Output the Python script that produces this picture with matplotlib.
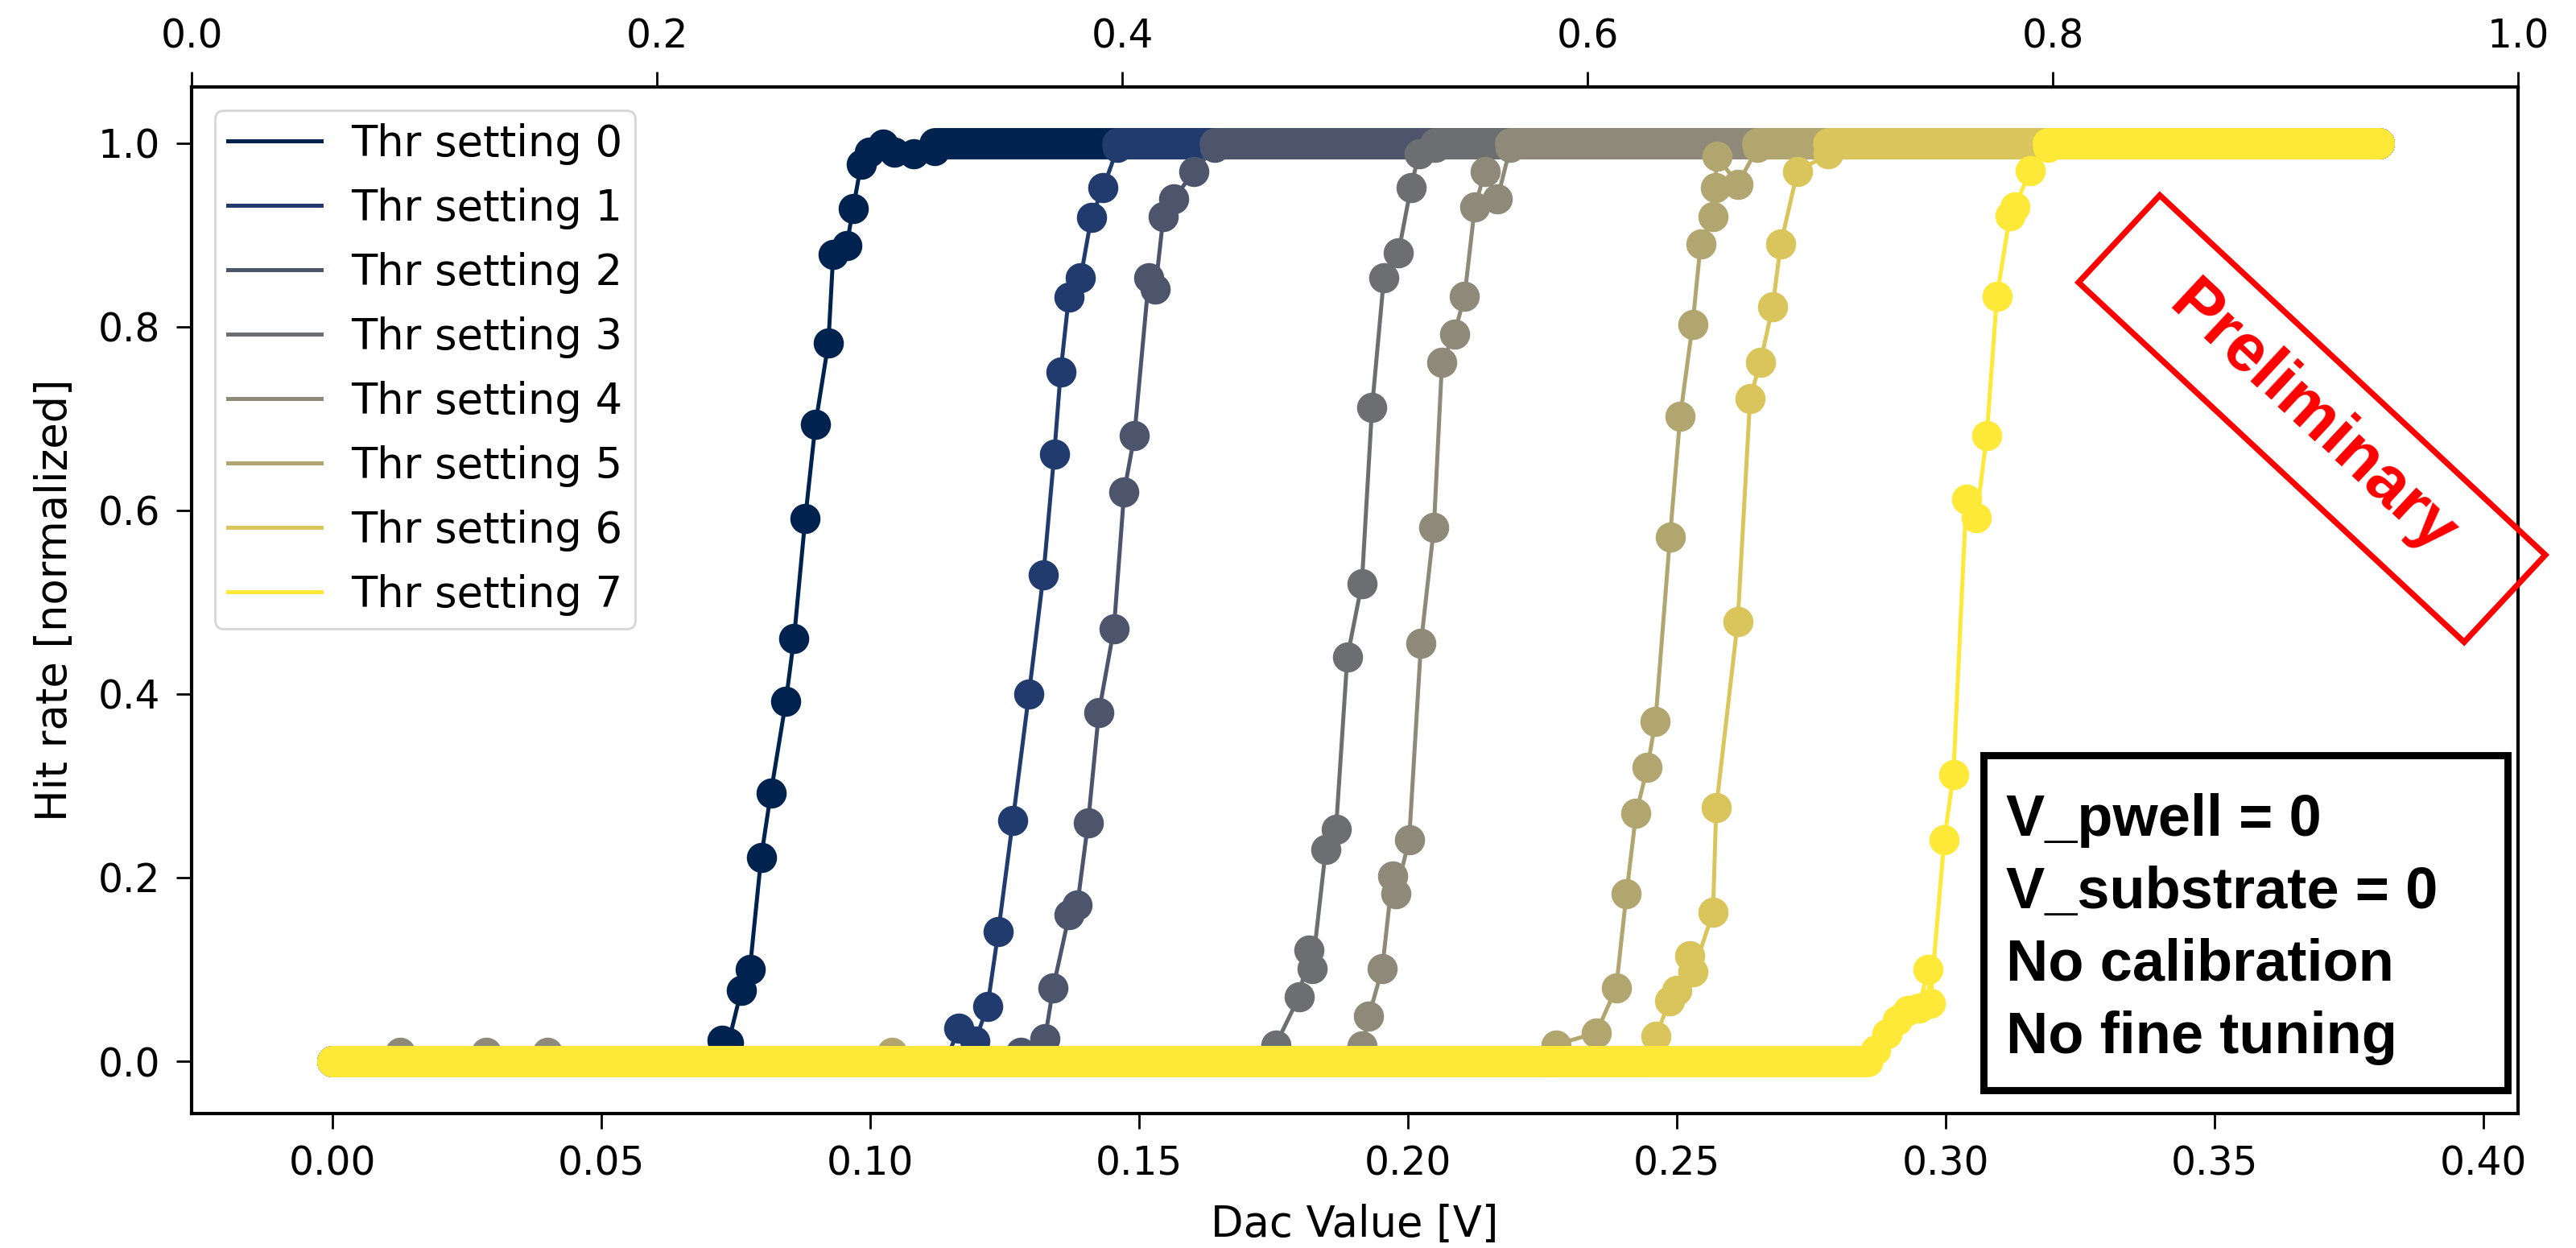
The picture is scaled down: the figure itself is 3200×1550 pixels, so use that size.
import numpy as np
import matplotlib
matplotlib.use('Agg')
import matplotlib.pyplot as plt
from matplotlib.patches import Rectangle
from matplotlib.transforms import Affine2D

# DAC scan range [V]
DAC_MIN, DAC_MAX = 0.0, 0.3805

labels = ['Thr setting %d' % i for i in range(8)]

# points on the rising edge of each s-curve,
# starting at the last DAC value with zero hits
thr0_x = [0.0690, 0.0724, 0.0736, 0.0760, 0.0776, 0.0797, 0.0815, 0.0843, 0.0858, 0.0879, 0.0898,
          0.0922, 0.0931, 0.0956, 0.0968, 0.0983, 0.0998, 0.1023, 0.1045, 0.1080, 0.1120]
thr0_y = [0.000, 0.023, 0.020, 0.077, 0.100, 0.222, 0.292, 0.392, 0.460, 0.591, 0.694,
          0.782, 0.879, 0.888, 0.929, 0.977, 0.990, 0.999, 0.990, 0.988, 0.992]

thr1_x = [0.1140, 0.1165, 0.1195, 0.1218, 0.1238, 0.1265, 0.1295, 0.1322, 0.1342, 0.1354, 0.1369,
          0.1391, 0.1411, 0.1433, 0.1460]
thr1_y = [0.000, 0.036, 0.022, 0.060, 0.141, 0.262, 0.400, 0.530, 0.661, 0.751, 0.832,
          0.853, 0.919, 0.951, 0.995]

thr2_x = [0.1265, 0.1280, 0.1325, 0.1340, 0.1370, 0.1385, 0.1405, 0.1425, 0.1453, 0.1472, 0.1491,
          0.1518, 0.1530, 0.1545, 0.1564, 0.1602, 0.1640]
thr2_y = [0.000, 0.010, 0.025, 0.080, 0.160, 0.170, 0.260, 0.380, 0.471, 0.620, 0.681,
          0.853, 0.841, 0.920, 0.939, 0.969, 0.995]

thr3_x = [0.1735, 0.1754, 0.1797, 0.1816, 0.1822, 0.1847, 0.1866, 0.1887, 0.1914, 0.1933, 0.1955,
          0.1982, 0.2005, 0.2020, 0.2050]
thr3_y = [0.000, 0.018, 0.070, 0.121, 0.101, 0.231, 0.253, 0.440, 0.520, 0.712, 0.853,
          0.880, 0.951, 0.988, 0.995]

thr4_x = [0.1895, 0.1915, 0.1927, 0.1952, 0.1971, 0.1977, 0.2002, 0.2024, 0.2048, 0.2063, 0.2086,
          0.2105, 0.2124, 0.2143, 0.2166, 0.2190]
thr4_y = [0.000, 0.017, 0.049, 0.101, 0.202, 0.182, 0.241, 0.455, 0.581, 0.761, 0.792,
          0.833, 0.930, 0.969, 0.939, 0.995]

thr5_x = [0.2255, 0.2275, 0.2350, 0.2387, 0.2406, 0.2424, 0.2445, 0.2460, 0.2487, 0.2506, 0.2529,
          0.2544, 0.2567, 0.2571, 0.2574, 0.2613, 0.2650]
thr5_y = [0.000, 0.018, 0.031, 0.080, 0.182, 0.270, 0.320, 0.370, 0.571, 0.702, 0.802,
          0.890, 0.920, 0.951, 0.986, 0.955, 0.995]

thr6_x = [0.2440, 0.2461, 0.2486, 0.2499, 0.2524, 0.2530, 0.2567, 0.2573, 0.2613, 0.2636, 0.2655,
          0.2678, 0.2693, 0.2724, 0.2781]
thr6_y = [0.000, 0.027, 0.066, 0.077, 0.115, 0.097, 0.162, 0.276, 0.479, 0.722, 0.761,
          0.822, 0.890, 0.969, 0.988]

thr7_x = [0.2855, 0.2870, 0.2890, 0.2910, 0.2930, 0.2950, 0.2967, 0.2971, 0.2997, 0.3014,
          0.3038, 0.3057, 0.3076, 0.3095, 0.3119, 0.3128, 0.3157, 0.3190]
thr7_y = [0.001, 0.012, 0.030, 0.045, 0.055, 0.058, 0.100, 0.063, 0.241, 0.312,
          0.612, 0.592, 0.681, 0.833, 0.921, 0.930, 0.970, 0.995]

series_x = [thr0_x, thr1_x, thr2_x, thr3_x, thr4_x, thr5_x, thr6_x, thr7_x]
series_y = [thr0_y, thr1_y, thr2_y, thr3_y, thr4_y, thr5_y, thr6_y, thr7_y]

# single noisy hits on the low plateau
stray_x = [0.0126, 0.0286, 0.0400, 0.1040]
stray_y = [0.010, 0.010, 0.010, 0.010]
stray_set = [4, 4, 4, 5]

info_lines = ['V_pwell = 0', 'V_substrate = 0', 'No calibration', 'No fine tuning']

fig = plt.figure(figsize=(16, 7.75), dpi=200)
ax = fig.add_axes([0.0744, 0.1077, 0.9031, 0.8226])
colors = plt.cm.cividis(np.linspace(0, 1, 8))

for i in range(8):
    c = colors[i]
    xs, ys = series_x[i], series_y[i]
    z = 2 + i
    # plateaus are dense runs of points -> thick band
    ax.plot([DAC_MIN, xs[0]], [0, 0], color=c, lw=14, solid_capstyle='round', zorder=z)
    ax.plot([xs[-1], DAC_MAX], [1, 1], color=c, lw=14, solid_capstyle='round', zorder=z)
    ax.plot([DAC_MIN] + xs + [DAC_MAX], [0] + ys + [1], color=c, lw=1.8,
            label=labels[i], zorder=z)
    ax.plot(xs[1:], ys[1:], 'o', color=c, ms=12.5, zorder=z)
    sx = [x for x, k in zip(stray_x, stray_set) if k == i]
    sy = [y for y, k in zip(stray_y, stray_set) if k == i]
    if sx:
        ax.plot(sx, sy, 'o', color=c, ms=12.5, zorder=z - 0.5)

ax.set_xlim(-0.0262, 0.4064)
ax.set_ylim(-0.057, 1.061)
ax.set_xticks(np.arange(0, 0.401, 0.05))
ax.set_yticks(np.arange(0, 1.01, 0.2))
ax.set_xlabel('Dac Value [V]', fontsize=19, labelpad=9)
ax.set_ylabel('Hit rate [normalized]', fontsize=19, labelpad=10)
ax.tick_params(labelsize=17.5, length=7, width=1.0, pad=7)
for s in ax.spines.values():
    s.set_linewidth(1.5)

top = ax.twiny()
top.set_xlim(0, 1)
top.set_xticks(np.arange(0, 1.01, 0.2))
top.tick_params(labelsize=17.5, length=7, width=1.0, pad=7)

ax.legend(loc='upper left', fontsize=19, labelspacing=0.53, handlelength=2.2,
          handletextpad=0.7, borderpad=0.3, borderaxespad=0.55)

# "Preliminary" stamp (figure inches)
cx, cy = 14.36, 5.15
stamp = Rectangle((cx - 3.275 / 2, cy - 0.74 / 2), 3.275, 0.74, fill=False, ec='red', lw=2.6,
                  transform=Affine2D().rotate_deg_around(cx, cy, -43) + fig.dpi_scale_trans)
fig.add_artist(stamp)
fig.text(cx, cy, 'Preliminary', transform=fig.dpi_scale_trans, rotation=-43,
         rotation_mode='anchor', ha='center', va='center', color='red',
         fontsize=30, fontweight='bold', family='Liberation Sans')

# settings box
box = Rectangle((12.32, 0.98), 3.255, 2.08, fc='white', ec='black', lw=3.2,
                joinstyle='miter', transform=fig.dpi_scale_trans, zorder=20)
fig.add_artist(box)
for k, line in enumerate(info_lines):
    fig.text(12.46, 2.561 - k * 0.45, line, transform=fig.dpi_scale_trans,
             ha='left', va='baseline', fontsize=26, fontweight='bold',
             family='Liberation Sans', zorder=21)

fig.savefig('out.png', dpi=200)
